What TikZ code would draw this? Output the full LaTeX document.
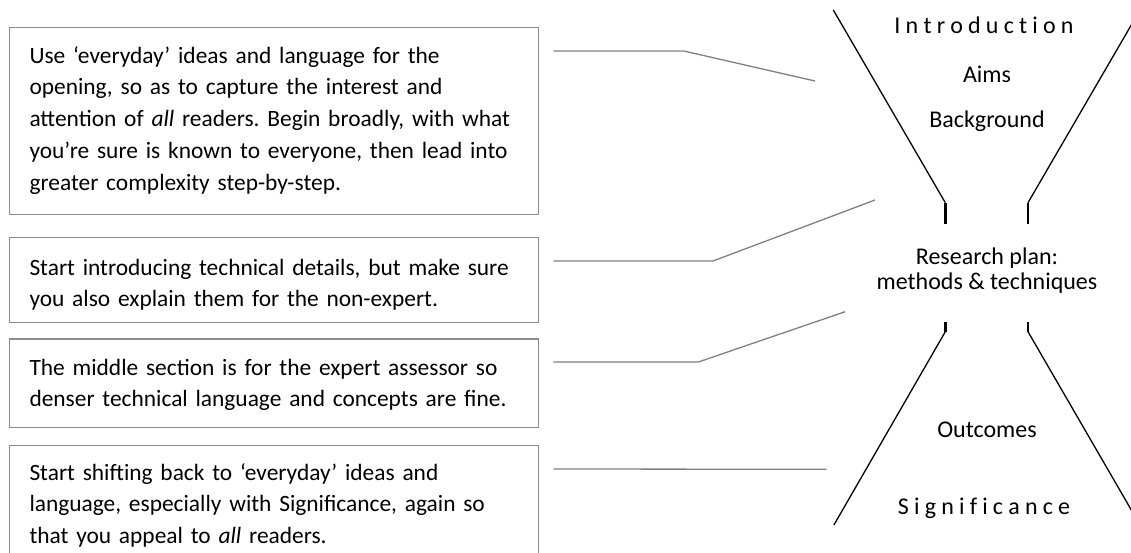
\documentclass[tikz,border=0pt]{standalone}
\usepackage{fontspec}
\setmainfont{Carlito}
\definecolor{boxgray}{HTML}{8C8C8C}
\definecolor{conngray}{HTML}{808080}
\newcommand{\lsk}{\hspace{5.2pt}}
\begin{document}
\frenchspacing
\begin{tikzpicture}[x=1pt,y=-1pt,
  box/.style={draw=boxgray, line width=1.4pt, inner sep=0pt, anchor=north west},
  txt/.style={anchor=base west, inner sep=0pt, align=left, text width=520pt,
    font=\fontsize{23.4}{31.7}\selectfont},
  conn/.style={draw=conngray, line width=1.3pt},
  funnel/.style={draw=black, line width=1.3pt},
  stem/.style={draw=black, line width=2.6pt},
  lbl/.style={inner sep=0pt, font=\fontsize{24}{28}\selectfont}]
\useasboundingbox (0,0) rectangle (1131,553);
\clip (0,0) rectangle (1131,553);
% boxes
\node[box, minimum width=529.3pt, minimum height=187.3pt] (b1) at (8.6,26.7) {};
\node[box, minimum width=529.3pt, minimum height=85pt] (b2) at (8.6,236.7) {};
\node[box, minimum width=529.3pt, minimum height=88.4pt] (b3) at (8.6,338.3) {};
\node[box, minimum width=529.3pt, minimum height=117pt] (b4) at (8.6,445) {};
% texts
\node[txt] (t1) at (29.3,63.3) {Use ‘everyday’ ideas and language for the\\opening, so as to capture the interest and\\attention of \textit{all} readers. Begin broadly, with what\\you’re sure is known to everyone, then lead into\\greater complexity step-by-step.};
\node[txt] (t2) at (29.3,275) {Start introducing technical details, but make sure\\you also explain them for the non-expert.};
\node[txt] (t3) at (29.3,375) {The middle section is for the expert assessor so\\denser technical language and concepts are fine.};
\node[txt] (t4) at (29.3,480) {Start shifting back to ‘everyday’ ideas and\\language, especially with Significance, again so\\that you appeal to \textit{all} readers.};
% funnel labels
\node[lbl] (intro) at (984,25) {I\lsk n\lsk t\lsk r\lsk o\lsk d\lsk u\lsk c\lsk t\lsk i\lsk o\lsk n};
\node[lbl] (aims) at (987,74) {Aims};
\node[lbl] (back) at (987,121.7) {Background};
\node[lbl] (rp) at (987,258.3) {Research plan:};
\node[lbl] (mt) at (987,283.3) {methods \& techniques};
\node[lbl] (out) at (987,430) {Outcomes};
\node[lbl] (sig) at (984,508.3) {S\lsk i\lsk g\lsk n\lsk i\lsk f\lsk i\lsk c\lsk a\lsk n\lsk c\lsk e};
% funnel geometry
\coordinate (ultop) at (833.3,10);
\coordinate (ulbot) at (945.3,202.7);
\coordinate (ulstem) at (945.3,224);
\coordinate (urtop) at (1140,10);
\coordinate (urbot) at (1028,202.7);
\coordinate (urstem) at (1028,224);
\coordinate (llstem) at (945.3,321.7);
\coordinate (lltop) at (945.3,331.7);
\coordinate (llbot) at (833.9,525);
\coordinate (lrstem) at (1028,321.7);
\coordinate (lrtop) at (1028,331.7);
\coordinate (lrbot) at (1140,525);
\draw[funnel] (ultop) -- (ulbot);
\draw[stem] (ulbot) -- (ulstem);
\draw[funnel] (urtop) -- (urbot);
\draw[stem] (urbot) -- (urstem);
\draw[stem] (llstem) -- (lltop);
\draw[funnel] (lltop) -- (llbot);
\draw[stem] (lrstem) -- (lrtop);
\draw[funnel] (lrtop) -- (lrbot);
% connectors
\coordinate (c1s) at (553.3,51);
\coordinate (c1m) at (683.8,51);
\coordinate (c1e) at (814.9,81);
\coordinate (c2s) at (553.3,261);
\coordinate (c2m) at (713,261);
\coordinate (c2e) at (875,200);
\coordinate (c3s) at (553.3,362);
\coordinate (c3m) at (698.4,362);
\coordinate (c3e) at (845.1,311.7);
\coordinate (c4s) at (553.3,469);
\coordinate (c4e) at (826.6,469.3);
\draw[conn] (c1s) -- (c1m) -- (c1e);
\draw[conn] (c2s) -- (c2m) -- (c2e);
\draw[conn] (c3s) -- (c3m) -- (c3e);
\draw[conn] (c4s) -- (c4e);
\end{tikzpicture}
\end{document}
